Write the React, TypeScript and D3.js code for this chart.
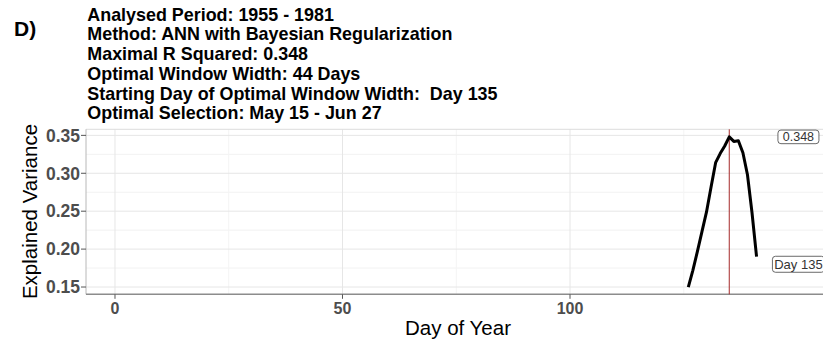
import React from "react";
import * as d3 from "d3";

// Explained variance of the sliding-window model, by day of year
const days = [126, 127, 128, 129, 130, 131, 132, 133, 134, 135, 136, 137, 138, 139, 140, 141];
const explained = [0.150, 0.172, 0.197, 0.223, 0.249, 0.282, 0.314, 0.326, 0.336, 0.348, 0.342, 0.343, 0.327, 0.298, 0.248, 0.190];

const titleLines = [
  "Analysed Period: 1955 - 1981",
  "Method: ANN with Bayesian Regularization",
  "Maximal R Squared: 0.348",
  "Optimal Window Width: 44 Days",
  "Starting Day of Optimal Window Width:  Day 135",
  "Optimal Selection: May 15 - Jun 27",
];

const xTicks = [0, 50, 100];
const xMinor = [25, 75, 125];
const yTicks = [0.15, 0.2, 0.25, 0.3, 0.35];
const yMinor = [0.175, 0.225, 0.275, 0.325];

const optimalDay = 135;
const maxR2 = 0.348;
const maxLabel = "0.348";
const dayLabel = "Day 135";
const dayLabelValue = 0.18;
const labelDay = 150.2;

const W = 823;
const H = 344;
const FONT = "'Liberation Sans', Arial, Helvetica, sans-serif";

export default function App() {
  const panel = { left: 86, right: 823, top: 129.3, bottom: 294.3 };
  const x = d3.scaleLinear().domain([-6.37, 155.6]).range([panel.left, panel.right]);
  const y = d3.scaleLinear().domain([0.1404, 0.358]).range([panel.bottom, panel.top]);

  const pts: [number, number][] = days.map((d, i) => [d, explained[i]]);
  const line = d3
    .line<[number, number]>()
    .x((p) => x(p[0]))
    .y((p) => y(p[1]));

  return (
    <svg
      width={W}
      height={H}
      style={{ position: "absolute", left: 0, top: 0, background: "#fff" }}
      fontFamily={FONT}
    >
      <rect x={0} y={0} width={W} height={H} fill="#fff" />

      {/* heading */}
      <text x={14} y={35.5} fontSize={21} fontWeight="bold" fill="#000">
        D)
      </text>
      {titleLines.map((t, i) => (
        <text
          key={t}
          x={87.3}
          y={20.7 + i * 19.7}
          fontSize={17.9}
          fontWeight="bold"
          fill="#000"
          style={{ whiteSpace: "pre" }}
        >
          {t}
        </text>
      ))}

      {/* grid */}
      <g>
        {yMinor.map((v) => (
          <line key={"ym" + v} x1={panel.left} x2={panel.right} y1={y(v)} y2={y(v)} stroke="#f2f2f2" strokeWidth={1} />
        ))}
        {xMinor.map((v) => (
          <line key={"xm" + v} x1={x(v)} x2={x(v)} y1={panel.top} y2={panel.bottom} stroke="#f4f4f4" strokeWidth={1} />
        ))}
        {yTicks.map((v) => (
          <line key={"yg" + v} x1={panel.left} x2={panel.right} y1={y(v)} y2={y(v)} stroke="#e6e6e6" strokeWidth={1} />
        ))}
        {xTicks.map((v) => (
          <line key={"xg" + v} x1={x(v)} x2={x(v)} y1={panel.top} y2={panel.bottom} stroke="#e6e6e6" strokeWidth={1} />
        ))}
      </g>

      {/* panel border */}
      <line x1={panel.left} x2={panel.right} y1={panel.top} y2={panel.top} stroke="#dcdcdc" strokeWidth={1} />
      <line x1={panel.left} x2={panel.left} y1={panel.top} y2={panel.bottom} stroke="#b8b8b8" strokeWidth={1} />
      <line x1={panel.left} x2={panel.right} y1={panel.bottom} y2={panel.bottom} stroke="#8c8c8c" strokeWidth={1.6} />

      {/* optimum marker */}
      <line x1={x(optimalDay)} x2={x(optimalDay)} y1={panel.top} y2={panel.bottom} stroke="#a52a2a" strokeWidth={1} />

      {/* series */}
      <path d={line(pts) ?? ""} fill="none" stroke="#000" strokeWidth={3} strokeLinejoin="round" />

      {/* labels */}
      <g>
        <rect x={x(labelDay) - 20.5} y={y(maxR2) - 6.8} width={41} height={13.6} rx={3} fill="#fff" stroke="#444" strokeWidth={0.8} />
        <text x={x(labelDay)} y={y(maxR2) + 4.5} fontSize={12.5} textAnchor="middle" fill="#333">
          {maxLabel}
        </text>
        <rect x={x(labelDay) - 26} y={y(dayLabelValue) - 8} width={52} height={16} rx={3} fill="#fff" stroke="#444" strokeWidth={0.8} />
        <text x={x(labelDay)} y={y(dayLabelValue) + 4.7} fontSize={13} textAnchor="middle" fill="#333">
          {dayLabel}
        </text>
      </g>

      {/* y axis */}
      {yTicks.map((v) => (
        <g key={"yt" + v}>
          <line x1={panel.left - 5} x2={panel.left} y1={y(v)} y2={y(v)} stroke="#555" strokeWidth={1} />
          <text x={panel.left - 6} y={y(v)} dy="0.36em" fontSize={17.5} fontWeight="bold" textAnchor="end" fill="#4d4d4d">
            {v.toFixed(2)}
          </text>
        </g>
      ))}
      <text transform={`translate(37,211.5) rotate(-90)`} fontSize={20.5} textAnchor="middle" fill="#000">
        Explained Variance
      </text>

      {/* x axis */}
      {xTicks.map((v) => (
        <g key={"xt" + v}>
          <line x1={x(v)} x2={x(v)} y1={panel.bottom} y2={panel.bottom + 4.5} stroke="#555" strokeWidth={1} />
          <text x={x(v)} y={314} fontSize={16} fontWeight="bold" textAnchor="middle" fill="#4d4d4d">
            {v}
          </text>
        </g>
      ))}
      <text x={458} y={335} fontSize={20.5} textAnchor="middle" fill="#000">
        Day of Year
      </text>
    </svg>
  );
}
